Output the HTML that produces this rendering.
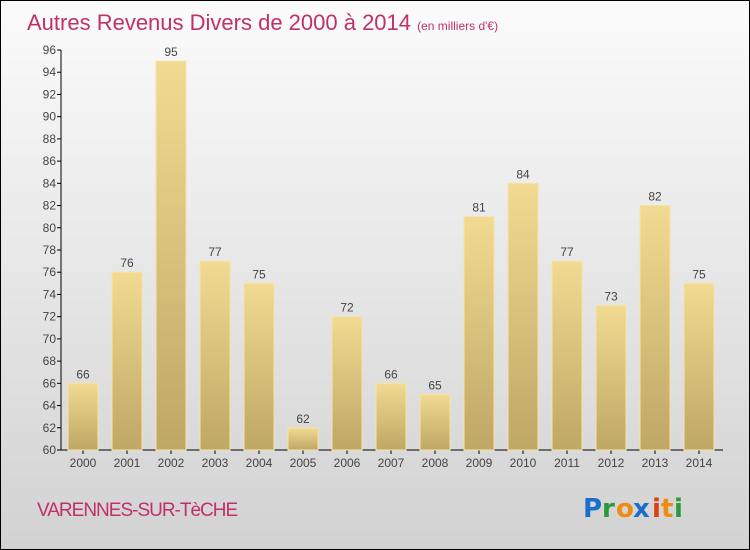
<!DOCTYPE html>
<html><head><meta charset="utf-8"><style>
body{margin:0;}
#c{position:relative;width:748px;height:548px;border:1px solid #000;background:linear-gradient(#fbfbfb,#d2d2d2);overflow:hidden;font-family:"Liberation Sans",sans-serif;}
</style></head><body>
<div id="c">
<svg width="748" height="548" id="s">
<defs><linearGradient id="g" x1="0" y1="0" x2="0" y2="1"><stop offset="0" stop-color="#f3da92"/><stop offset="1" stop-color="#bfa764"/></linearGradient></defs>
<text x="26" y="29" font-size="22" fill="#c0306a">Autres Revenus Divers de 2000 à 2014 <tspan font-size="12">(en milliers d'€)</tspan></text>
<text x="36" y="515" font-size="19" fill="#c0306a" letter-spacing="-1">VARENNES-SUR-TèCHE</text>
<g font-size="26" font-weight="bold" font-family="'DejaVu Sans',sans-serif">
<text x="582" y="516" fill="#1a6fcc">P</text><text x="601" y="516" fill="#2a9a3a">r</text><text x="615" y="516" fill="#f08a10">o</text><text x="632" y="516" fill="#1a6fcc">x</text><text x="651" y="516" fill="#e04010">i</text><text x="660" y="516" fill="#f08a10">t</text><text x="673" y="516" fill="#2a9a3a">i</text>
</g>
<g id="ax"></g><g id="bars"></g>
</svg></div>
<script>
const years=["2000","2001","2002","2003","2004","2005","2006","2007","2008","2009","2010","2011","2012","2013","2014"];
const values=[66,76,95,77,75,62,72,66,65,81,84,77,73,82,75];
const ticks=[60,62,64,66,68,70,72,74,76,78,80,82,84,86,88,90,92,94,96];
const NS="http://www.w3.org/2000/svg";
function y(v){return 449-(v-60)*(400/36);}
function x(i){return 82+i*44;}
function mk(t,a,p){const e=document.createElementNS(NS,t);for(const k in a)e.setAttribute(k,a[k]);p.appendChild(e);return e;}
const ax=document.getElementById('ax'),bg=document.getElementById('bars');
const yl=mk('line',{x1:60,x2:60,y1:49,y2:449,stroke:'#000'},ax);


const xl=mk('line',{x1:60,x2:722,y1:449,y2:449,stroke:'#000'},ax);


ticks.forEach(t=>{
 mk('line',{x1:56,x2:60,y1:y(t),y2:y(t),stroke:'#000'},ax);
 const tx=mk('text',{x:55,y:y(t)+4,'text-anchor':'end','font-size':12,fill:'#444'},ax);tx.textContent=t;
 
 
});
years.forEach((yr,i)=>{
 const v=values[i];
 const r=mk('rect',{x:x(i)-15,y:y(v),width:30,height:449-y(v),fill:'url(#g)',stroke:'#f5e4a8','stroke-width':1},bg);
 
 
 const l=mk('text',{x:x(i),y:y(v)-5,'text-anchor':'middle','font-size':12,fill:'#444'},bg);l.textContent=v;
 
 
 mk('line',{x1:x(i),x2:x(i),y1:449,y2:453,stroke:'#000'},ax);
 const xt=mk('text',{x:x(i),y:466,'text-anchor':'middle','font-size':12,fill:'#444'},ax);xt.textContent=yr;
 
 
});
</script>
</body></html>
